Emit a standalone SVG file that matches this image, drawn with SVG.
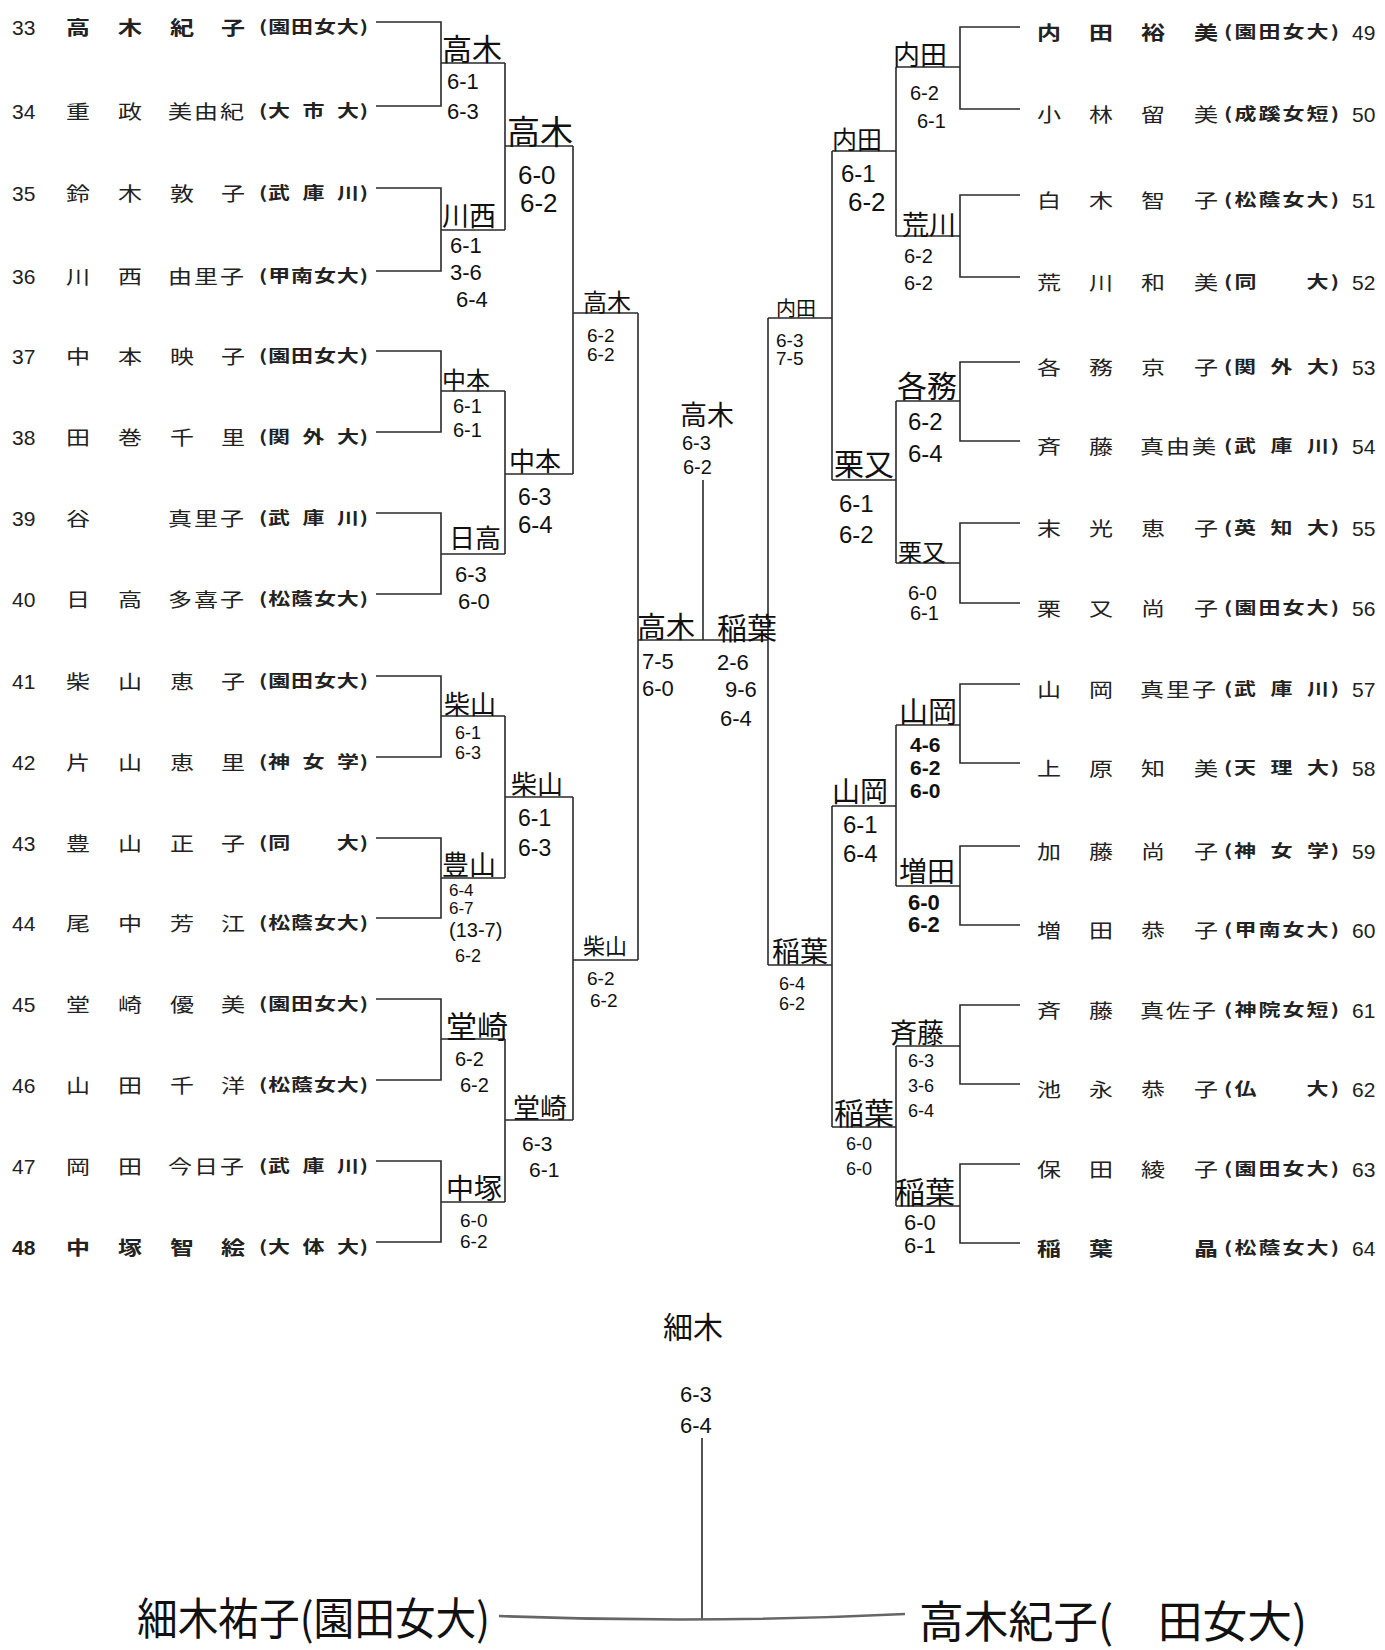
<svg xmlns="http://www.w3.org/2000/svg" width="1385" height="1650" viewBox="0 0 1385 1650">
<style>
.ln{stroke:#2a2a2a;stroke-width:1.6;fill:none}
.num{font-family:"Liberation Sans",Arial,sans-serif;font-size:21px;fill:#222}
.nm{font-family:"Noto Sans CJK JP",sans-serif;font-size:24px;fill:#222}
.b{font-weight:700}
.un{font-family:"Noto Sans CJK JP",sans-serif;font-size:22px;fill:#222;font-weight:700}
.hw{font-family:"Noto Sans CJK JP",sans-serif;fill:#111}
.sc{font-family:"Liberation Sans",Arial,sans-serif;fill:#111}
.big{font-family:"Noto Sans CJK JP",sans-serif;font-size:44px;fill:#111}
</style>
<rect width="1385" height="1650" fill="#ffffff"/>

<g id="connectors" class="ln">
<path d="M376,22H441V106H376M441,63H505"/>
<path d="M376,188H441V271H376M441,230H505"/>
<path d="M505,63V230M505,146H573"/>
<path d="M376,351H441V432H376M441,391H505"/>
<path d="M376,513H441V594H376M441,554H505"/>
<path d="M505,391V554M505,474H573"/>
<path d="M573,146V474M573,313H638"/>
<path d="M376,676H441V757H376M441,716H505"/>
<path d="M376,838H441V918H376M441,878H505"/>
<path d="M505,716V878M505,797H573"/>
<path d="M376,999H441V1080H376M441,1039H505"/>
<path d="M376,1161H441V1242H376M441,1202H505"/>
<path d="M505,1039V1202M505,1120H573"/>
<path d="M573,797V1120M573,960H638"/>
<path d="M638,313V960"/>
<path d="M638,640H768"/>
<path d="M703,480V640"/>
<path d="M1020,27H960V109H1020M960,67H896"/>
<path d="M1020,195H960V277H1020M960,236H896"/>
<path d="M896,67V236M896,151H832"/>
<path d="M1020,362H960V441H1020M960,401H896"/>
<path d="M1020,523H960V603H1020M960,563H896"/>
<path d="M896,401V563M896,480H832"/>
<path d="M832,151V480M832,318H768"/>
<path d="M1020,684H960V763H1020M960,725H896"/>
<path d="M1020,846H960V925H1020M960,886H896"/>
<path d="M896,725V886M896,806H832"/>
<path d="M1020,1005H960V1084H1020M960,1046H896"/>
<path d="M1020,1164H960V1243H1020M960,1206H896"/>
<path d="M896,1046V1206M896,1127H832"/>
<path d="M832,806V1127M832,965H768"/>
<path d="M768,318V965"/>
<path d="M702,1438V1619"/>
<path d="M499,1616Q702,1624 905,1614" style="stroke:#666;stroke-width:2.6"/>
</g>

<g id="players-left">
<g id="p33" transform="translate(0,22)"><text class="num" x="12" y="13">33</text><text class="nm b" transform="scale(1,0.8)" x="66 118 170 221" y="16">高木紀子</text><text class="un" transform="scale(1,0.75)" x="259" y="15" textLength="109" lengthAdjust="spacing">(園田女大)</text></g>
<g id="p34" transform="translate(0,106)"><text class="num" x="12" y="13">34</text><text class="nm" transform="scale(1,0.8)" x="66 118 168 194 220" y="16">重政美由紀</text><text class="un" transform="scale(1,0.75)" x="259" y="15" textLength="109" lengthAdjust="spacing">(大&#8194;市&#8194;大)</text></g>
<g id="p35" transform="translate(0,188)"><text class="num" x="12" y="13">35</text><text class="nm" transform="scale(1,0.8)" x="66 118 170 221" y="16">鈴木敦子</text><text class="un" transform="scale(1,0.75)" x="259" y="15" textLength="109" lengthAdjust="spacing">(武&#8194;庫&#8194;川)</text></g>
<g id="p36" transform="translate(0,271)"><text class="num" x="12" y="13">36</text><text class="nm" transform="scale(1,0.8)" x="66 118 168 194 220" y="16">川西由里子</text><text class="un" transform="scale(1,0.75)" x="259" y="15" textLength="109" lengthAdjust="spacing">(甲南女大)</text></g>
<g id="p37" transform="translate(0,351)"><text class="num" x="12" y="13">37</text><text class="nm" transform="scale(1,0.8)" x="66 118 170 221" y="16">中本映子</text><text class="un" transform="scale(1,0.75)" x="259" y="15" textLength="109" lengthAdjust="spacing">(園田女大)</text></g>
<g id="p38" transform="translate(0,432)"><text class="num" x="12" y="13">38</text><text class="nm" transform="scale(1,0.8)" x="66 118 170 221" y="16">田巻千里</text><text class="un" transform="scale(1,0.75)" x="259" y="15" textLength="109" lengthAdjust="spacing">(関&#8194;外&#8194;大)</text></g>
<g id="p39" transform="translate(0,513)"><text class="num" x="12" y="13">39</text><text class="nm" transform="scale(1,0.8)" x="66 168 194 220" y="16">谷真里子</text><text class="un" transform="scale(1,0.75)" x="259" y="15" textLength="109" lengthAdjust="spacing">(武&#8194;庫&#8194;川)</text></g>
<g id="p40" transform="translate(0,594)"><text class="num" x="12" y="13">40</text><text class="nm" transform="scale(1,0.8)" x="66 118 168 194 220" y="16">日高多喜子</text><text class="un" transform="scale(1,0.75)" x="259" y="15" textLength="109" lengthAdjust="spacing">(松蔭女大)</text></g>
<g id="p41" transform="translate(0,676)"><text class="num" x="12" y="13">41</text><text class="nm" transform="scale(1,0.8)" x="66 118 170 221" y="16">柴山恵子</text><text class="un" transform="scale(1,0.75)" x="259" y="15" textLength="109" lengthAdjust="spacing">(園田女大)</text></g>
<g id="p42" transform="translate(0,757)"><text class="num" x="12" y="13">42</text><text class="nm" transform="scale(1,0.8)" x="66 118 170 221" y="16">片山恵里</text><text class="un" transform="scale(1,0.75)" x="259" y="15" textLength="109" lengthAdjust="spacing">(神&#8194;女&#8194;学)</text></g>
<g id="p43" transform="translate(0,838)"><text class="num" x="12" y="13">43</text><text class="nm" transform="scale(1,0.8)" x="66 118 170 221" y="16">豊山正子</text><text class="un" transform="scale(1,0.75)" x="259" y="15" textLength="109" lengthAdjust="spacing">(同　　大)</text></g>
<g id="p44" transform="translate(0,918)"><text class="num" x="12" y="13">44</text><text class="nm" transform="scale(1,0.8)" x="66 118 170 221" y="16">尾中芳江</text><text class="un" transform="scale(1,0.75)" x="259" y="15" textLength="109" lengthAdjust="spacing">(松蔭女大)</text></g>
<g id="p45" transform="translate(0,999)"><text class="num" x="12" y="13">45</text><text class="nm" transform="scale(1,0.8)" x="66 118 170 221" y="16">堂崎優美</text><text class="un" transform="scale(1,0.75)" x="259" y="15" textLength="109" lengthAdjust="spacing">(園田女大)</text></g>
<g id="p46" transform="translate(0,1080)"><text class="num" x="12" y="13">46</text><text class="nm" transform="scale(1,0.8)" x="66 118 170 221" y="16">山田千洋</text><text class="un" transform="scale(1,0.75)" x="259" y="15" textLength="109" lengthAdjust="spacing">(松蔭女大)</text></g>
<g id="p47" transform="translate(0,1161)"><text class="num" x="12" y="13">47</text><text class="nm" transform="scale(1,0.8)" x="66 118 168 194 220" y="16">岡田今日子</text><text class="un" transform="scale(1,0.75)" x="259" y="15" textLength="109" lengthAdjust="spacing">(武&#8194;庫&#8194;川)</text></g>
<g id="p48" transform="translate(0,1242)"><text class="num b" x="12" y="13">48</text><text class="nm b" transform="scale(1,0.8)" x="66 118 170 221" y="16">中塚智絵</text><text class="un" transform="scale(1,0.75)" x="259" y="15" textLength="109" lengthAdjust="spacing">(大&#8194;体&#8194;大)</text></g>
</g>

<g id="players-right">
<g id="p49" transform="translate(0,27)"><text class="nm b" transform="scale(1,0.8)" x="1037 1089 1141 1194" y="16">内田裕美</text><text class="un" transform="scale(1,0.75)" x="1224" y="15" textLength="115" lengthAdjust="spacing">(園田女大)</text><text class="num" x="1352" y="13">49</text></g>
<g id="p50" transform="translate(0,109)"><text class="nm" transform="scale(1,0.8)" x="1037 1089 1141 1194" y="16">小林留美</text><text class="un" transform="scale(1,0.75)" x="1224" y="15" textLength="115" lengthAdjust="spacing">(成蹊女短)</text><text class="num" x="1352" y="13">50</text></g>
<g id="p51" transform="translate(0,195)"><text class="nm" transform="scale(1,0.8)" x="1037 1089 1141 1194" y="16">白木智子</text><text class="un" transform="scale(1,0.75)" x="1224" y="15" textLength="115" lengthAdjust="spacing">(松蔭女大)</text><text class="num" x="1352" y="13">51</text></g>
<g id="p52" transform="translate(0,277)"><text class="nm" transform="scale(1,0.8)" x="1037 1089 1141 1194" y="16">荒川和美</text><text class="un" transform="scale(1,0.75)" x="1224" y="15" textLength="115" lengthAdjust="spacing">(同　　大)</text><text class="num" x="1352" y="13">52</text></g>
<g id="p53" transform="translate(0,362)"><text class="nm" transform="scale(1,0.8)" x="1037 1089 1141 1194" y="16">各務京子</text><text class="un" transform="scale(1,0.75)" x="1224" y="15" textLength="115" lengthAdjust="spacing">(関&#8194;外&#8194;大)</text><text class="num" x="1352" y="13">53</text></g>
<g id="p54" transform="translate(0,441)"><text class="nm" transform="scale(1,0.8)" x="1037 1089 1140 1166 1192" y="16">斉藤真由美</text><text class="un" transform="scale(1,0.75)" x="1224" y="15" textLength="115" lengthAdjust="spacing">(武&#8194;庫&#8194;川)</text><text class="num" x="1352" y="13">54</text></g>
<g id="p55" transform="translate(0,523)"><text class="nm" transform="scale(1,0.8)" x="1037 1089 1141 1194" y="16">末光恵子</text><text class="un" transform="scale(1,0.75)" x="1224" y="15" textLength="115" lengthAdjust="spacing">(英&#8194;知&#8194;大)</text><text class="num" x="1352" y="13">55</text></g>
<g id="p56" transform="translate(0,603)"><text class="nm" transform="scale(1,0.8)" x="1037 1089 1141 1194" y="16">栗又尚子</text><text class="un" transform="scale(1,0.75)" x="1224" y="15" textLength="115" lengthAdjust="spacing">(園田女大)</text><text class="num" x="1352" y="13">56</text></g>
<g id="p57" transform="translate(0,684)"><text class="nm" transform="scale(1,0.8)" x="1037 1089 1140 1166 1192" y="16">山岡真里子</text><text class="un" transform="scale(1,0.75)" x="1224" y="15" textLength="115" lengthAdjust="spacing">(武&#8194;庫&#8194;川)</text><text class="num" x="1352" y="13">57</text></g>
<g id="p58" transform="translate(0,763)"><text class="nm" transform="scale(1,0.8)" x="1037 1089 1141 1194" y="16">上原知美</text><text class="un" transform="scale(1,0.75)" x="1224" y="15" textLength="115" lengthAdjust="spacing">(天&#8194;理&#8194;大)</text><text class="num" x="1352" y="13">58</text></g>
<g id="p59" transform="translate(0,846)"><text class="nm" transform="scale(1,0.8)" x="1037 1089 1141 1194" y="16">加藤尚子</text><text class="un" transform="scale(1,0.75)" x="1224" y="15" textLength="115" lengthAdjust="spacing">(神&#8194;女&#8194;学)</text><text class="num" x="1352" y="13">59</text></g>
<g id="p60" transform="translate(0,925)"><text class="nm" transform="scale(1,0.8)" x="1037 1089 1141 1194" y="16">増田恭子</text><text class="un" transform="scale(1,0.75)" x="1224" y="15" textLength="115" lengthAdjust="spacing">(甲南女大)</text><text class="num" x="1352" y="13">60</text></g>
<g id="p61" transform="translate(0,1005)"><text class="nm" transform="scale(1,0.8)" x="1037 1089 1140 1166 1192" y="16">斉藤真佐子</text><text class="un" transform="scale(1,0.75)" x="1224" y="15" textLength="115" lengthAdjust="spacing">(神院女短)</text><text class="num" x="1352" y="13">61</text></g>
<g id="p62" transform="translate(0,1084)"><text class="nm" transform="scale(1,0.8)" x="1037 1089 1141 1194" y="16">池永恭子</text><text class="un" transform="scale(1,0.75)" x="1224" y="15" textLength="115" lengthAdjust="spacing">(仏　　大)</text><text class="num" x="1352" y="13">62</text></g>
<g id="p63" transform="translate(0,1164)"><text class="nm" transform="scale(1,0.8)" x="1037 1089 1141 1194" y="16">保田綾子</text><text class="un" transform="scale(1,0.75)" x="1224" y="15" textLength="115" lengthAdjust="spacing">(園田女大)</text><text class="num" x="1352" y="13">63</text></g>
<g id="p64" transform="translate(0,1243)"><text class="nm b" transform="scale(1,0.8)" x="1037 1089 1194" y="16">稲葉晶</text><text class="un" transform="scale(1,0.75)" x="1224" y="15" textLength="115" lengthAdjust="spacing">(松蔭女大)</text><text class="num" x="1352" y="13">64</text></g>
</g>

<g id="results-left">
<g id="l1a"><text class="hw" x="442" y="60" font-size="30">高木</text><text class="sc" x="447" y="89" font-size="22">6-1</text><text class="sc" x="447" y="119" font-size="22">6-3</text></g>
<g id="l1b"><text class="hw" x="442" y="226" font-size="27">川西</text><text class="sc" x="450" y="253" font-size="22">6-1</text><text class="sc" x="450" y="280" font-size="22">3-6</text><text class="sc" x="456" y="307" font-size="22">6-4</text></g>
<g id="l1c"><text class="hw" x="442" y="389" font-size="24">中本</text><text class="sc" x="453" y="413" font-size="20">6-1</text><text class="sc" x="453" y="437" font-size="20">6-1</text></g>
<g id="l1d"><text class="hw" x="449" y="548" font-size="26">日高</text><text class="sc" x="455" y="582" font-size="22">6-3</text><text class="sc" x="458" y="609" font-size="22">6-0</text></g>
<g id="l1e"><text class="hw" x="444" y="714" font-size="26">柴山</text><text class="sc" x="455" y="739" font-size="18">6-1</text><text class="sc" x="455" y="759" font-size="18">6-3</text></g>
<g id="l1f"><text class="hw" x="442" y="875" font-size="27">豊山</text><text class="sc" x="449" y="896" font-size="17">6-4</text><text class="sc" x="449" y="914" font-size="17">6-7</text><text class="sc" x="449" y="937" font-size="20">(13-7)</text><text class="sc" x="455" y="962" font-size="18">6-2</text></g>
<g id="l1g"><text class="hw" x="446" y="1038" font-size="31">堂崎</text><text class="sc" x="455" y="1066" font-size="20">6-2</text><text class="sc" x="460" y="1092" font-size="20">6-2</text></g>
<g id="l1h"><text class="hw" x="446" y="1199" font-size="28">中塚</text><text class="sc" x="460" y="1227" font-size="19">6-0</text><text class="sc" x="460" y="1248" font-size="19">6-2</text></g>
<g id="l2a"><text class="hw" x="507" y="144" font-size="33">高木</text><text class="sc" x="518" y="184" font-size="26">6-0</text><text class="sc" x="520" y="212" font-size="26">6-2</text></g>
<g id="l2b"><text class="hw" x="509" y="471" font-size="26">中本</text><text class="sc" x="518" y="505" font-size="23">6-3</text><text class="sc" x="518" y="533" font-size="24">6-4</text></g>
<g id="l2c"><text class="hw" x="511" y="794" font-size="26">柴山</text><text class="sc" x="518" y="826" font-size="23">6-1</text><text class="sc" x="518" y="856" font-size="23">6-3</text></g>
<g id="l2d"><text class="hw" x="513" y="1118" font-size="27">堂崎</text><text class="sc" x="522" y="1151" font-size="21">6-3</text><text class="sc" x="529" y="1177" font-size="21">6-1</text></g>
<g id="l3a"><text class="hw" x="583" y="311" font-size="24">高木</text><text class="sc" x="587" y="342" font-size="19">6-2</text><text class="sc" x="587" y="361" font-size="19">6-2</text></g>
<g id="l3b"><text class="hw" x="583" y="954" font-size="22">柴山</text><text class="sc" x="587" y="985" font-size="19">6-2</text><text class="sc" x="590" y="1007" font-size="19">6-2</text></g>
</g>

<g id="results-center">
<g id="sf-left"><text class="hw" x="637" y="638" font-size="29">高木</text><text class="sc" x="642" y="669" font-size="22">7-5</text><text class="sc" x="642" y="696" font-size="22">6-0</text></g>
<g id="sf-right"><text class="hw" x="717" y="639" font-size="30">稲葉</text><text class="sc" x="717" y="670" font-size="22">2-6</text><text class="sc" x="725" y="697" font-size="22">9-6</text><text class="sc" x="720" y="726" font-size="22">6-4</text></g>
<g id="block-final"><text class="hw" x="680" y="425" font-size="27">高木</text><text class="sc" x="682" y="450" font-size="20">6-3</text><text class="sc" x="683" y="474" font-size="20">6-2</text></g>
</g>

<g id="results-right">
<g id="r1a"><text class="hw" x="893" y="65" font-size="27">内田</text><text class="sc" x="910" y="100" font-size="20">6-2</text><text class="sc" x="917" y="128" font-size="20">6-1</text></g>
<g id="r1b"><text class="hw" x="902" y="235" font-size="27">荒川</text><text class="sc" x="904" y="263" font-size="20">6-2</text><text class="sc" x="904" y="290" font-size="20">6-2</text></g>
<g id="r1c"><text class="hw" x="897" y="397" font-size="30">各務</text><text class="sc" x="908" y="430" font-size="24">6-2</text><text class="sc" x="908" y="462" font-size="24">6-4</text></g>
<g id="r1d"><text class="hw" x="898" y="561" font-size="24">栗又</text><text class="sc" x="908" y="600" font-size="20">6-0</text><text class="sc" x="910" y="620" font-size="20">6-1</text></g>
<g id="r1e"><text class="hw" x="899" y="723" font-size="29">山岡</text><text class="sc b" x="910" y="752" font-size="21">4-6</text><text class="sc b" x="910" y="775" font-size="21">6-2</text><text class="sc b" x="910" y="798" font-size="21">6-0</text></g>
<g id="r1f"><text class="hw" x="899" y="882" font-size="28">増田</text><text class="sc b" x="908" y="910" font-size="22">6-0</text><text class="sc b" x="908" y="932" font-size="22">6-2</text></g>
<g id="r1g"><text class="hw" x="890" y="1043" font-size="27">斉藤</text><text class="sc" x="908" y="1067" font-size="18">6-3</text><text class="sc" x="908" y="1092" font-size="18">3-6</text><text class="sc" x="908" y="1117" font-size="18">6-4</text></g>
<g id="r1h"><text class="hw" x="895" y="1203" font-size="30">稲葉</text><text class="sc" x="904" y="1230" font-size="22">6-0</text><text class="sc" x="904" y="1253" font-size="22">6-1</text></g>
<g id="r2a"><text class="hw" x="832" y="149" font-size="25">内田</text><text class="sc" x="841" y="182" font-size="24">6-1</text><text class="sc" x="848" y="211" font-size="26">6-2</text></g>
<g id="r2b"><text class="hw" x="834" y="475" font-size="30">栗又</text><text class="sc" x="839" y="512" font-size="24">6-1</text><text class="sc" x="839" y="543" font-size="24">6-2</text></g>
<g id="r2c"><text class="hw" x="832" y="802" font-size="28">山岡</text><text class="sc" x="843" y="833" font-size="24">6-1</text><text class="sc" x="843" y="862" font-size="24">6-4</text></g>
<g id="r2d"><text class="hw" x="834" y="1124" font-size="30">稲葉</text><text class="sc" x="846" y="1150" font-size="18">6-0</text><text class="sc" x="846" y="1175" font-size="18">6-0</text></g>
<g id="r3a"><text class="hw" x="776" y="316" font-size="20">内田</text><text class="sc" x="776" y="347" font-size="19">6-3</text><text class="sc" x="776" y="365" font-size="19">7-5</text></g>
<g id="r3b"><text class="hw" x="772" y="962" font-size="28">稲葉</text><text class="sc" x="779" y="990" font-size="18">6-4</text><text class="sc" x="779" y="1010" font-size="18">6-2</text></g>
</g>

<g id="final">
<text class="hw" x="663" y="1338" font-size="30">細木</text>
<text class="sc" x="680" y="1402" font-size="22">6-3</text>
<text class="sc" x="680" y="1433" font-size="22">6-4</text>
<g id="finalist-left"><text class="big" x="137" y="1635" textLength="353" lengthAdjust="spacingAndGlyphs">細木祐子(園田女大)</text></g>
<g id="finalist-right"><text class="big" x="919" y="1638" textLength="388" lengthAdjust="spacingAndGlyphs">高木紀子(　田女大)</text></g>
</g>
</svg>
